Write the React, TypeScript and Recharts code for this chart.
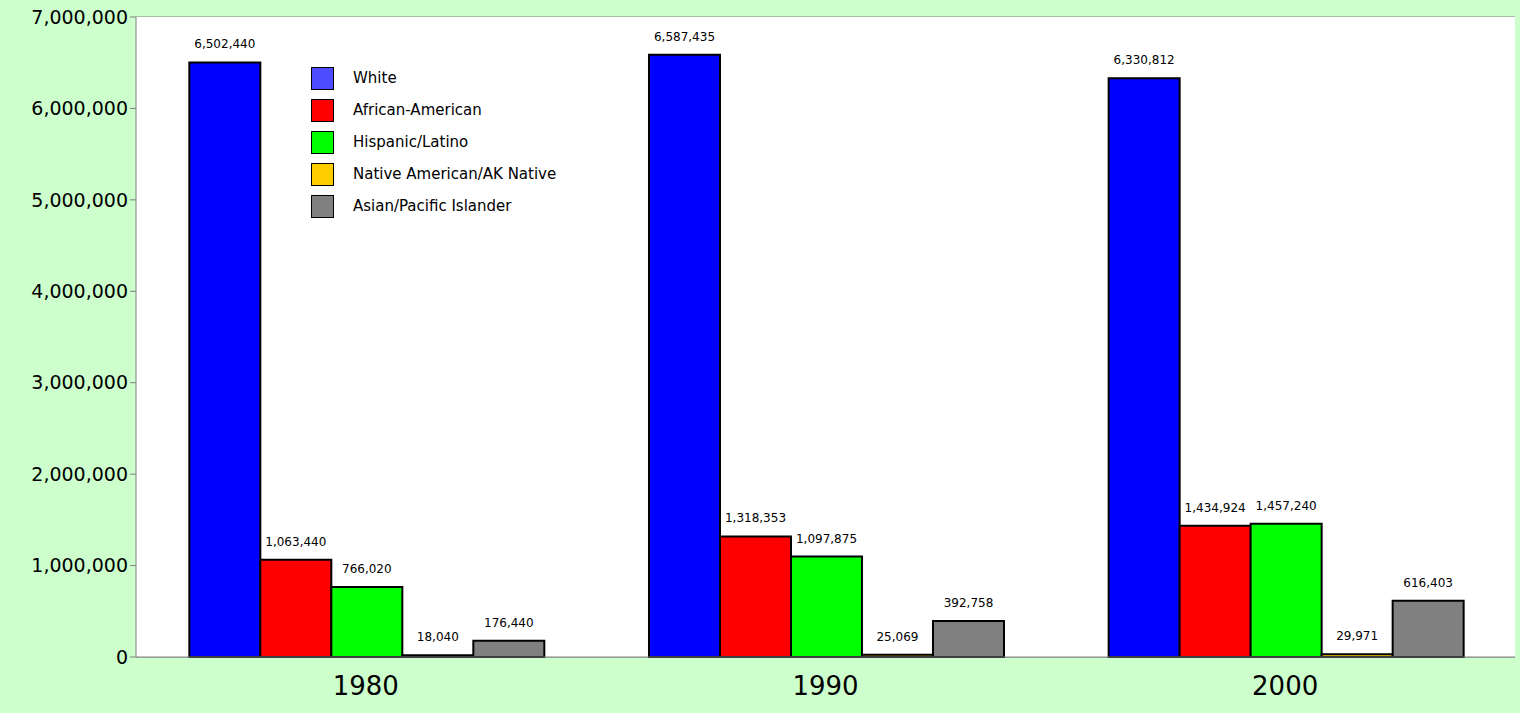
import { BarChart, Bar, XAxis, YAxis, CartesianGrid, LabelList } from "recharts";

const years = ["1980", "1990", "2000"];
const white = [6502440, 6587435, 6330812];
const african = [1063440, 1318353, 1434924];
const hispanic = [766020, 1097875, 1457240];
const native = [18040, 25069, 29971];
const asian = [176440, 392758, 616403];
const yTicks = [0, 1000000, 2000000, 3000000, 4000000, 5000000, 6000000, 7000000];

const series = [
  { key: "white", name: "White", fill: "#0000FF", swatch: "#4D4DFF" },
  { key: "african", name: "African-American", fill: "#FF0000", swatch: "#FF0000" },
  { key: "hispanic", name: "Hispanic/Latino", fill: "#00FF00", swatch: "#00FF00" },
  { key: "native", name: "Native American/AK Native", fill: "#FFCC00", swatch: "#FFCC00" },
  { key: "asian", name: "Asian/Pacific Islander", fill: "#808080", swatch: "#808080" },
];

const data = years.map((y, i) => ({
  year: y,
  white: white[i],
  african: african[i],
  hispanic: hispanic[i],
  native: native[i],
  asian: asian[i],
}));

const fmt = (v: number) => v.toLocaleString("en-US");
const FONT = "Verdana, 'DejaVu Sans', sans-serif";

function LegendBox() {
  return (
    <div style={{ position: "absolute", left: 311, top: 62, fontFamily: FONT, fontSize: 15, color: "#000" }}>
      {series.map((s) => (
        <div key={s.key} style={{ display: "flex", alignItems: "center", height: 32 }}>
          <div style={{ width: 23, height: 23, background: s.swatch, border: "1.5px solid #000", boxSizing: "border-box", marginRight: 19 }} />
          {s.name}
        </div>
      ))}
    </div>
  );
}

export default function App() {
  return (
    <div style={{ position: "absolute", left: 0, top: 0, width: 1520, height: 713, background: "#CCFFCC" }}>
      <BarChart
        width={1520}
        height={713}
        data={data}
        margin={{ top: 17, right: 5, left: 0, bottom: 0 }}
        barCategoryGap="11.6%"
        barGap={0}
      >
        <rect x={136} y={17} width={1379} height={640} fill="#FFFFFF" />
        <CartesianGrid vertical={false} stroke="#808080" strokeWidth={1} />
        <XAxis
          dataKey="year"
          height={56}
          tickLine={false}
          axisLine={{ stroke: "#808080" }}
          tick={{ fontFamily: FONT, fontSize: 26, fill: "#000" }}
          tickMargin={14}
        />
        <YAxis
          width={136}
          domain={[0, 7000000]}
          ticks={yTicks}
          tickFormatter={fmt}
          interval={0}
          axisLine={{ stroke: "#808080" }}
          tickLine={{ stroke: "#808080" }}
          tickSize={6}
          tick={{ fontFamily: FONT, fontSize: 19, fill: "#000" }}
        />
        {series.map((s) => (
          <Bar key={s.key} dataKey={s.key} name={s.name} fill={s.fill} stroke="#000" strokeWidth={2} isAnimationActive={false}>
            <LabelList
              dataKey={s.key}
              position="top"
              offset={14}
              formatter={(v: number) => fmt(v)}
              style={{ fontFamily: FONT, fontSize: 12, fill: "#000" }}
            />
          </Bar>
        ))}
      </BarChart>
      <LegendBox />
    </div>
  );
}
